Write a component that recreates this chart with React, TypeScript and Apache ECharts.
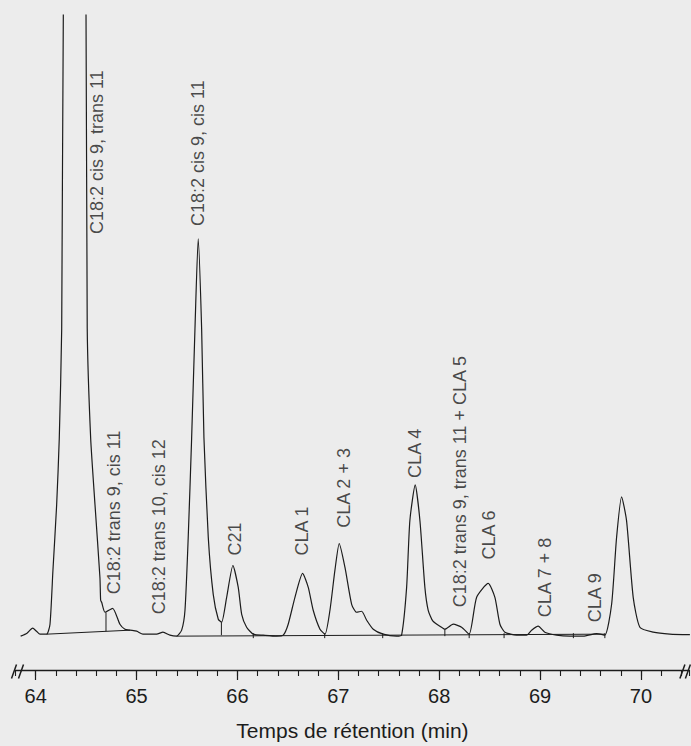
import React, { useEffect, useRef } from "react";
import * as echarts from "echarts";

// Retention time (min) and detector signal (arbitrary units, baseline = 0)
const traceTime = [
  63.851, 63.914, 63.97, 64.008, 64.043, 64.109, 64.142, 64.171, 64.208, 64.234,
  64.258, 64.274, 64.389, 64.499, 64.511, 64.545, 64.588, 64.637, 64.644, 64.654,
  64.687, 64.763, 64.835, 64.885, 64.935, 65.001, 65.063, 65.199, 65.262, 65.331,
  65.397, 65.447, 65.48, 65.512, 65.546, 65.579, 65.611, 65.645, 65.668, 65.711,
  65.76, 65.81, 65.843, 65.893, 65.955, 66.008, 66.042, 66.091, 66.157, 66.256,
  66.389, 66.454, 66.503, 66.57, 66.646, 66.702, 66.751, 66.818, 66.868, 66.917,
  66.966, 67.009, 67.066, 67.132, 67.181, 67.231, 67.281, 67.346, 67.445, 67.578,
  67.627, 67.677, 67.709, 67.762, 67.809, 67.858, 67.891, 67.938, 68.007, 68.057,
  68.139, 68.222, 68.297, 68.371, 68.486, 68.552, 68.602, 68.651, 68.767, 68.866,
  68.916, 68.981, 69.047, 69.163, 69.295, 69.427, 69.56, 69.642, 69.709, 69.758,
  69.808, 69.857, 69.923, 69.989, 70.121, 70.286, 70.485,
];
const traceSignal = [
  -1, 2, 7, 4, 1, 1, 11, 65, 131, 198,
  308, 623, 1500, 623, 308, 198, 131, 58, 35, 33,
  23, 27, 11, 6, 5, 4, 1, 1, 3, 0,
  -1, 5, 25, 98, 198, 308, 398, 308, 198, 98,
  41, 16, 13, 38, 70, 48, 21, 8, 1, 0,
  -1, 0, 11, 38, 62, 48, 25, 6, 1, 25,
  65, 92, 68, 31, 23, 24, 15, 6, 1, -1,
  0, 48, 115, 151, 115, 48, 25, 14, 9, 6,
  11, 8, 1, 38, 52, 38, 11, 3, 0, 0,
  5, 9, 3, 0, -1, -1, 1.5, 0, 31, 98,
  139, 115, 38, 8, 3, 1, 0.5,
];

// Integration baselines (start/end time and signal)
const baseStartTime = [64.109, 65.397];
const baseStartSignal = [1, -1];
const baseEndTime = [64.935, 69.642];
const baseEndSignal = [5, 1];

// Integration drop lines
const dropTime = [64.697, 65.841, 66.157, 66.865, 67.44, 68.056, 68.297, 68.643, 69.33, 69.642];
const dropTop = [23, 13, 2, 2, 2, 6, 2, 2, 2, 2];
const dropBottom = [4, 0, -3, -3, -3, -1, -3, -3, -3, -3];

// Peak labels
const peakNames = [
  "C18:2 cis 9, trans 11",
  "C18:2 cis 9, cis 11",
  "C18:2 trans 9, cis 11",
  "C18:2 trans 10, cis 12",
  "C21",
  "CLA 1",
  "CLA 2 + 3",
  "CLA 4",
  "C18:2 trans 9, trans 11 + CLA 5",
  "CLA 6",
  "CLA 7 + 8",
  "CLA 9",
];
const peakLabelTime = [64.608, 65.613, 64.781, 65.222, 65.98, 66.644, 67.06, 67.764, 68.21, 68.497, 69.052, 69.548];
const peakLabelSignal = [403, 411, 41, 21, 80, 80, 108, 158, 28, 76, 18, 13];

const majorTicks = [64, 65, 66, 67, 68, 69, 70];
const X_MIN = 63.8;
const X_MAX = 70.48;
const Y_MIN = -35;
const Y_MAX = 623;

const FONT = "'Liberation Sans', Arial, Helvetica, sans-serif";
const INK = "#1c1c1c";

export default function App() {
  const ref = useRef<HTMLDivElement>(null);

  useEffect(() => {
    if (!ref.current) return;
    const chart = echarts.init(ref.current, undefined, { renderer: "svg" });

    const trace = traceTime.map((t, i) => [t, traceSignal[i]]);
    const baseData: any[] = [];
    baseStartTime.forEach((t, i) => {
      baseData.push([t, baseStartSignal[i]]);
      baseData.push([baseEndTime[i], baseEndSignal[i]]);
      baseData.push([baseEndTime[i], null]);
    });
    const dropData: any[] = [];
    dropTime.forEach((t, i) => {
      dropData.push([t, dropTop[i]]);
      dropData.push([t, dropBottom[i]]);
      dropData.push([t, null]);
    });
    const labelData = peakNames.map((n, i) => ({
      name: n,
      value: [peakLabelTime[i], peakLabelSignal[i]],
    }));

    chart.setOption({
      animation: false,
      backgroundColor: "#ececec",
      grid: { left: 15.5, right: 1.6, top: 15, bottom: 73 },
      xAxis: [
        {
          type: "value",
          min: X_MIN,
          max: X_MAX,
          interval: 0.2,
          axisLine: { show: true, onZero: false, lineStyle: { color: INK, width: 1.3 } },
          axisTick: { show: true, length: 6, lineStyle: { color: INK, width: 1.1 } },
          axisLabel: { show: false },
          splitLine: { show: false },
        },
        {
          type: "value",
          min: X_MIN,
          max: X_MAX,
          position: "bottom",
          axisLine: { show: false, onZero: false },
          axisTick: {
            show: true,
            length: 10,
            customValues: majorTicks,
            lineStyle: { color: INK, width: 1.2 },
          },
          axisLabel: {
            show: true,
            customValues: majorTicks,
            margin: 16,
            fontSize: 20,
            color: INK,
            fontFamily: FONT,
          },
          splitLine: { show: false },
          name: "Temps de rétention (min)",
          nameLocation: "middle",
          nameGap: 50,
          nameTextStyle: { fontSize: 21, color: INK, fontFamily: FONT },
        },
      ],
      yAxis: {
        type: "value",
        min: Y_MIN,
        max: Y_MAX,
        show: false,
        splitLine: { show: false },
      },
      series: [
        {
          type: "line",
          data: trace,
          showSymbol: false,
          smooth: 0.2,
          clip: true,
          lineStyle: { color: INK, width: 1.2 },
          z: 3,
        },
        {
          type: "line",
          data: baseData,
          showSymbol: false,
          connectNulls: false,
          lineStyle: { color: INK, width: 1 },
          z: 2,
        },
        {
          type: "line",
          data: dropData,
          showSymbol: false,
          connectNulls: false,
          lineStyle: { color: INK, width: 1 },
          z: 2,
        },
        {
          type: "scatter",
          data: labelData,
          symbolSize: 0,
          silent: true,
          label: {
            show: true,
            formatter: "{b}",
            position: "inside",
            rotate: 90,
            align: "left",
            verticalAlign: "middle",
            fontSize: 18,
            color: INK,
            fontFamily: FONT,
          },
          z: 4,
        },
      ],
    });

    // axis-break marks "//" at both ends of the axis line
    const xl = chart.convertToPixel({ xAxisIndex: 0 }, X_MIN) as number;
    const xr = chart.convertToPixel({ xAxisIndex: 0 }, X_MAX) as number;
    const ya = chart.convertToPixel({ yAxisIndex: 0 }, Y_MIN) as number;
    const slash = (x: number) => ({
      type: "line",
      shape: { x1: x - 2.5, y1: ya + 8.5, x2: x + 2.5, y2: ya - 5.5 },
      style: { stroke: INK, lineWidth: 1.5 },
      z: 10,
    });
    chart.setOption({
      graphic: [slash(xl - 1.5), slash(xl + 5.5), slash(xr - 7), slash(xr - 1.5)],
    });

    return () => chart.dispose();
  }, []);

  return (
    <div
      ref={ref}
      style={{ position: "fixed", left: 0, top: 0, width: 691, height: 746 }}
    />
  );
}
